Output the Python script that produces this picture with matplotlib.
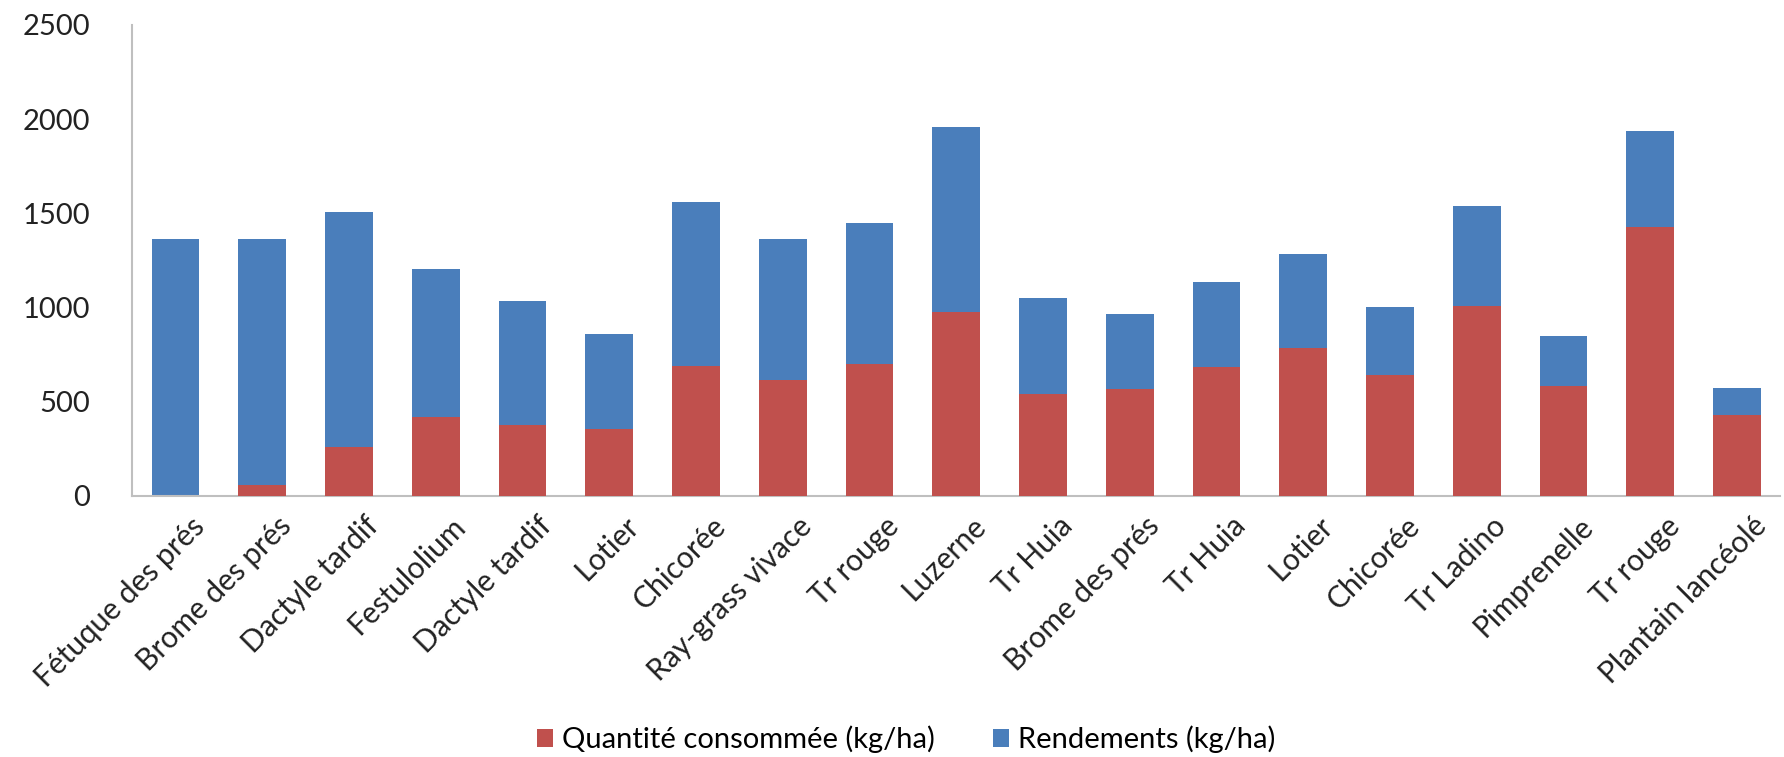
import matplotlib
matplotlib.use("Agg")
import matplotlib.pyplot as plt
import matplotlib.transforms as mtransforms
import numpy as np

categories = [
    "Fétuque des prés", "Brome des prés", "Dactyle tardif", "Festulolium",
    "Dactyle tardif", "Lotier", "Chicorée", "Ray-grass vivace", "Tr rouge",
    "Luzerne", "Tr Huia", "Brome des prés", "Tr Huia", "Lotier", "Chicorée",
    "Tr Ladino", "Pimprenelle", "Tr rouge", "Plantain lancéolé",
]
consommee = [0, 57, 257, 417, 378, 355, 691, 617, 700, 975,
             541, 567, 683, 784, 642, 1007, 582, 1426, 431]
rendements = [1362, 1362, 1507, 1202, 1037, 860, 1561, 1365, 1450, 1959,
              1050, 963, 1135, 1286, 1002, 1539, 851, 1938, 571]
yticks = [0, 500, 1000, 1500, 2000, 2500]

RED = "#C0504D"
BLUE = "#4A7EBB"

plt.rcParams["font.family"] = ["Lato", "DejaVu Sans"]

fig = plt.figure(figsize=(17.84, 7.57), dpi=100)
ax = fig.add_axes([0.074, 0.345, 0.924, 0.622])

x = np.arange(len(categories))
w = 0.55
b_rend = ax.bar(x, rendements, width=w, color=BLUE, zorder=2,
                label="Rendements (kg/ha)")
b_cons = ax.bar(x, consommee, width=w, color=RED, zorder=3,
                label="Quantité consommée (kg/ha)")

ax.set_xlim(-0.5, len(categories) - 0.5)
ax.set_ylim(0, 2500)
ax.set_yticks(yticks)
ax.set_yticklabels([str(v) for v in yticks], fontsize=21, color="#222222")
ax.set_xticks(x)
ax.set_xticklabels(categories, rotation=45, ha="right",
                   rotation_mode="anchor", fontsize=21.5, color="#222222")
ax.tick_params(axis="both", length=0)
ax.tick_params(axis="y", pad=30)
ax.tick_params(axis="x", pad=10)

# nudge the slanted category labels so they end under the right half of each bar
shift = mtransforms.ScaledTranslation(0.15, -0.02, fig.dpi_scale_trans)
for lbl in ax.get_xticklabels():
    lbl.set_transform(lbl.get_transform() + shift)

for side in ("top", "right"):
    ax.spines[side].set_visible(False)
for side in ("left", "bottom"):
    ax.spines[side].set_color("#BFBFBF")
    ax.spines[side].set_linewidth(1.5)

fig.legend(handles=[b_cons, b_rend], loc="center", bbox_to_anchor=(0.508, 0.023),
           ncol=2, frameon=False, fontsize=21, handlelength=0.55,
           handleheight=0.6, handletextpad=0.3, columnspacing=2.0)

fig.savefig("out.png", dpi=100)
